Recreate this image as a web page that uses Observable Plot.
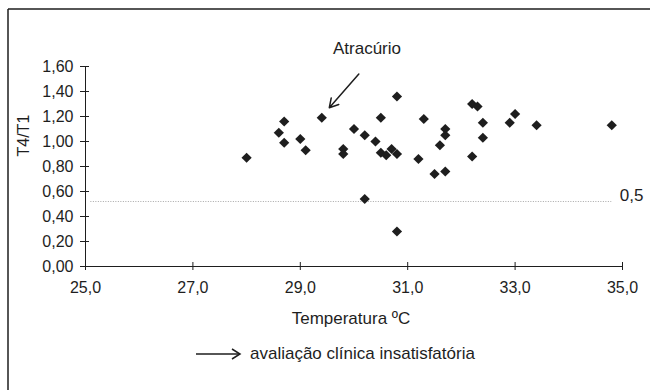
<!DOCTYPE html>
<html><head><meta charset="utf-8">
<script src="https://cdn.jsdelivr.net/npm/d3@7"></script>
<script src="https://cdn.jsdelivr.net/npm/@observablehq/plot@0.6"></script>
<style>body{margin:0;background:#fff}#chart{width:650px;height:390px;position:relative}</style>
</head><body><div id="chart"></div>
<script>
const temperatures = [28.0, 28.6, 28.7, 28.7, 29.0, 29.1, 29.4, 29.8, 29.8, 30.0, 30.2, 30.2, 30.4, 30.5, 30.5, 30.6, 30.7, 30.8, 30.8, 30.8, 31.2, 31.3, 31.5, 31.6, 31.7, 31.7, 31.7, 32.2, 32.3, 32.2, 32.4, 32.4, 32.9, 33.0, 33.4, 34.8];
const ratios = [0.87, 1.07, 1.16, 0.99, 1.02, 0.93, 1.19, 0.94, 0.90, 1.10, 1.05, 0.54, 1.00, 1.19, 0.91, 0.89, 0.94, 1.36, 0.90, 0.28, 0.86, 1.18, 0.74, 0.97, 1.10, 1.05, 0.76, 1.30, 1.28, 0.88, 1.15, 1.03, 1.15, 1.22, 1.13, 1.13];
const xTicks = [25, 27, 29, 31, 33, 35];
const xTickLabels = ["25,0", "27,0", "29,0", "31,0", "33,0", "35,0"];
const yTicks = [0, 0.2, 0.4, 0.6, 0.8, 1.0, 1.2, 1.4, 1.6];
const yTickLabels = ["0,00", "0,20", "0,40", "0,60", "0,80", "1,00", "1,20", "1,40", "1,60"];
const threshold = [0.52];
const thresholdLabel = ["0,5"];
const thresholdRange = [25.1, 34.8];
const arrowNote = [{x1: 30.09, y1: 1.54, x2: 29.54, y2: 1.27}];
const title = ["Atracúrio"];
const xLabel = ["Temperatura ºC"];
const yLabel = ["T4/T1"];
const legendLabel = "avaliação clínica insatisfatória";

const points = temperatures.map((t, i) => ({t, r: ratios[i]}));
const ink = "#1e1e1e";
const font = "'Liberation Sans', Arial, sans-serif";

const svg = Plot.plot({
  width: 650, height: 390,
  marginLeft: 85, marginRight: 28, marginTop: 66, marginBottom: 124,
  style: {fontFamily: font, fontSize: "16px", color: ink, background: "#fff"},
  x: {domain: [25, 35]},
  y: {domain: [0, 1.6]},
  marks: [
    Plot.ruleY(threshold, {x1: thresholdRange[0], x2: thresholdRange[1], stroke: "#a8a8a8", strokeDasharray: "1,1.5"}),
    Plot.text(thresholdLabel, {x: thresholdRange[1], y: threshold[0], text: d => d, textAnchor: "start", dx: 8, dy: -6, fontSize: 17, fill: ink}),
    Plot.axisX({ticks: xTicks, tickFormat: d => xTickLabels[xTicks.indexOf(d)], tickSize: 8, dy: -4, tickPadding: 11, label: null, stroke: ink, fill: ink}),
    Plot.axisY({ticks: yTicks, tickFormat: d => yTickLabels[yTicks.indexOf(d)], tickSize: 9, dx: 4, tickPadding: 7, label: null, stroke: ink, fill: ink}),
    Plot.ruleY([0], {stroke: ink}),
    Plot.ruleX([25], {stroke: ink}),
    Plot.dot(points, {x: "t", y: "r", symbol: "diamond2", r: 4.6, fill: ink, stroke: null}),
    Plot.arrow(arrowNote, {x1: "x1", y1: "y1", x2: "x2", y2: "y2", stroke: ink, strokeWidth: 1.5, headLength: 10}),
    Plot.text(title, {frameAnchor: "top", text: d => d, dx: 13, dy: -25, fontSize: 17, fill: ink}),
    Plot.text(xLabel, {frameAnchor: "bottom", text: d => d, dx: -3, dy: 57, fontSize: 17, fill: ink}),
    Plot.text(yLabel, {frameAnchor: "left", text: d => d, rotate: -90, dx: -62, dy: -10, fontSize: 16, fill: ink})
  ]
});

const s = d3.select(svg);
// outer frame (top and left edges)
s.append("line").attr("x1", 8).attr("y1", 9).attr("x2", 650).attr("y2", 9).attr("stroke", ink).attr("stroke-width", 1.5);
s.append("line").attr("x1", 8).attr("y1", 9).attr("x2", 8).attr("y2", 390).attr("stroke", ink).attr("stroke-width", 1.5);
// legend
const lg = s.append("g").attr("transform", "translate(196,354)");
lg.append("line").attr("x1", 0).attr("x2", 43).attr("y1", 0).attr("y2", 0).attr("stroke", ink).attr("stroke-width", 1.5);
lg.append("polyline").attr("points", "36,-5 44,0 36,5").attr("fill", "none").attr("stroke", ink).attr("stroke-width", 1.5);
lg.append("text").attr("x", 54).attr("y", 0).attr("dy", "0.32em").attr("text-anchor", "start").attr("font-family", font).attr("font-size", 17).attr("fill", ink).text(legendLabel);

document.getElementById("chart").appendChild(svg);
</script>
</body></html>
